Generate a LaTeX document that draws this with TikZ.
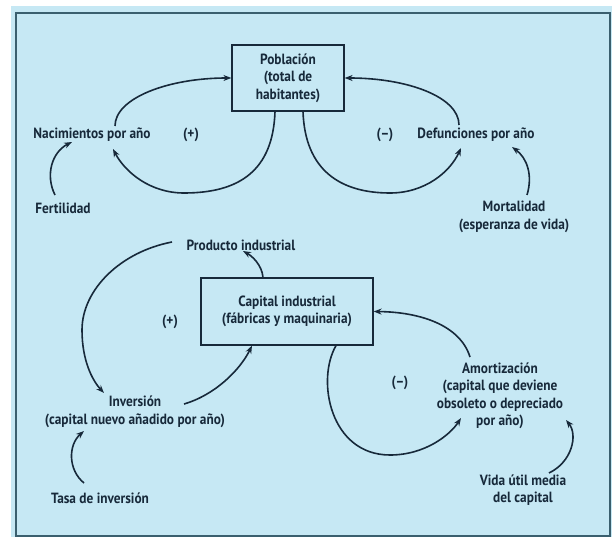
\documentclass[tikz,border=0pt]{standalone}
\usepackage{fontspec}
\setmainfont{PT Sans}[FakeStretch=0.9]
\usetikzlibrary{arrows.meta,calc}
\definecolor{bgblue}{HTML}{C6E8F4}
\definecolor{ink}{HTML}{17293A}
\definecolor{frame}{HTML}{3A5F6E}
\begin{document}
\begin{tikzpicture}[x=1pt,y=-1pt,
  lbl/.style={text=ink,font=\bfseries\fontsize{14.8}{17.5}\selectfont,align=center,inner sep=0pt},
  boxnode/.style={lbl,draw=ink,line width=1.2pt},
  arr/.style={draw=ink,line width=1.6pt,-{Stealth[length=8pt,width=6pt]}}]
\useasboundingbox (0,0) rectangle (612,537);
\fill[bgblue] (11,6) rectangle (612,537);
\draw[frame,line width=1.3pt] (16,13) rectangle (610,536);

% nodes
\node[boxnode,minimum width=112pt,minimum height=66pt] (pob) at (288,78) {Población\\(total de\\habitantes)};
\node[lbl] (nac) at (92,135) {Nacimientos por año};
\node[lbl] (plusA) at (191,135) {(+)};
\node[lbl] (minusA) at (385,135) {(–)};
\node[lbl] (def) at (476,135) {Defunciones por año};
\node[lbl] (fert) at (63,208) {Fertilidad};
\node[lbl] (mort) at (514,217) {Mortalidad\\(esperanza de vida)};
\node[lbl] (prod) at (241,245) {Producto industrial};
\node[boxnode,minimum width=172pt,minimum height=67pt] (cap) at (287,311.5) {Capital industrial\\(fábricas y maquinaria)};
\node[lbl] (plusB) at (170,322) {(+)};
\node[lbl] (inv) at (135,412) {Inversión\\(capital nuevo añadido por año)};
\node[lbl] (tasa) at (100,498) {Tasa de inversión};
\node[lbl] (minusB) at (400,383) {(–)};
\node[lbl] (amort) at (500,396) {Amortización\\(capital que deviene\\obsoleto o depreciado\\por año)};
\node[lbl] (vida) at (523,490) {Vida útil media\\del capital};

% upper loops
\draw[arr] ($(nac)+(23,-9)$) .. controls +(0,-28) and +(-63,0) .. (pob.west);
\draw[arr] ($(pob.south)+(-13,0)$) .. controls (273,170) and (240,193) .. (184,193)
  .. controls (150,193) and (125,172) .. ($(nac)+(21,14)$);
\draw[arr] ($(pob.south)+(15,0)$) .. controls (305,170) and (340,193) .. (390,193)
  .. controls (425,193) and (450,172) .. ($(def)+(-15,13)$);
\draw[arr] ($(def)+(-17,-10)$) .. controls +(0,-28) and +(63,0) .. (pob.east);
\draw[arr] ($(fert)+(-8,-13)$) .. controls (45,175) and (52,152) .. ($(nac)+(-20,7)$);
\draw[arr] ($(mort)+(13,-22)$) .. controls (533,175) and (527,158) .. ($(def)+(36,12)$);

% lower loops
\draw[arr] ($(cap.north)+(-24,0)$) .. controls (262,265) and (252,256) .. ($(prod)+(2,6)$);
\draw[arr] ($(prod)+(-69,-3)$) .. controls (120,252) and (82,290) .. (82,330)
  .. controls (82,360) and (92,380) .. ($(inv)+(-31,-19)$);
\draw[arr] ($(inv)+(49,-8)$) .. controls (215,395) and (240,370) .. ($(cap.south)+(-35,0)$);
\draw[arr] ($(tasa)+(-16,-15)$) .. controls (68,470) and (68,445) .. ($(inv)+(-51,19)$);
\draw[arr] ($(cap.south)+(49,0)$) .. controls (316,380) and (330,455) .. (390,455)
  .. controls (425,455) and (450,435) .. ($(amort)+(-39,22)$);
\draw[arr] ($(amort)+(-30,-39)$) .. controls (460,325) and (420,312) .. (cap.east);
\draw[arr] ($(vida)+(26,-17)$) .. controls (572,462) and (578,435) .. ($(amort)+(66,24)$);
\end{tikzpicture}
\end{document}
